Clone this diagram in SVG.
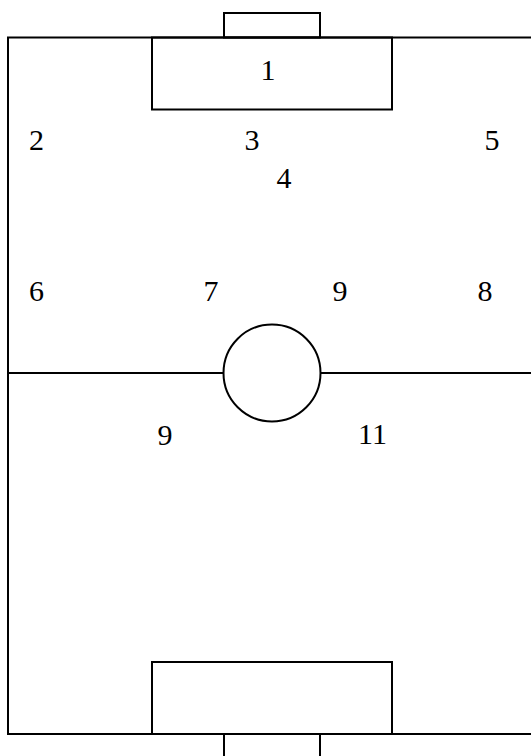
<svg xmlns="http://www.w3.org/2000/svg" width="531" height="756" viewBox="0 0 531 756">
<style>
.l{fill:none;stroke:#000;stroke-width:2}
.t{font-family:"Liberation Serif","Times New Roman",serif;font-size:30px;fill:#000;text-anchor:middle}
</style>
<rect width="531" height="756" fill="#fff"/>
<g id="field">
<rect class="l" x="8" y="37.5" width="540" height="696.5"/>
<line class="l" x1="8" y1="373" x2="224" y2="373"/>
<line class="l" x1="320" y1="373" x2="540" y2="373"/>
<circle class="l" cx="272" cy="373" r="48.5"/>
<rect class="l" x="224" y="13" width="96" height="24.5"/>
<rect class="l" x="152" y="37.5" width="240" height="72"/>
<rect class="l" x="152" y="662" width="240" height="72"/>
<path class="l" d="M224 760V734H320V760"/>
</g>
<g id="players">
<text class="t" x="268" y="80">1</text>
<text class="t" x="36.5" y="150">2</text>
<text class="t" x="252" y="150">3</text>
<text class="t" x="284" y="188">4</text>
<text class="t" x="492" y="150">5</text>
<text class="t" x="36.5" y="301">6</text>
<text class="t" x="211" y="301">7</text>
<text class="t" x="340" y="301">9</text>
<text class="t" x="485" y="301">8</text>
<text class="t" x="165" y="445">9</text>
<text class="t" x="372.5" y="444">11</text>
</g>
</svg>
